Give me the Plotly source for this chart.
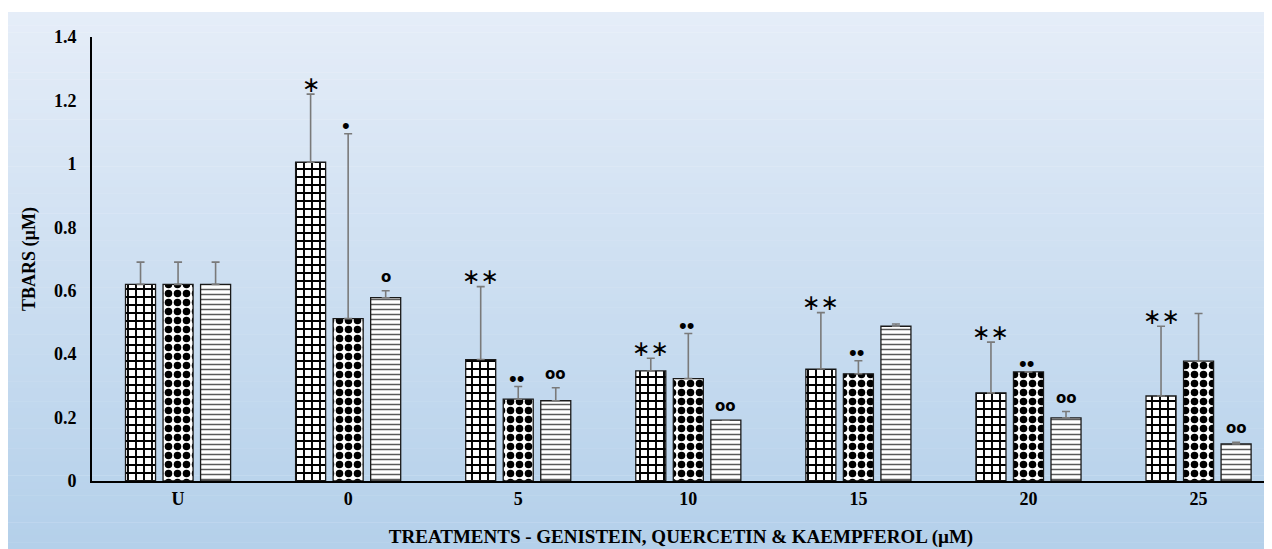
import plotly.graph_objects as go

categories = ["U", "0", "5", "10", "15", "20", "25"]
series_names = ["Genistein", "Quercetin", "Kaempferol"]

genistein = [0.62, 1.005, 0.383, 0.347, 0.353, 0.278, 0.268]
genistein_err = [0.07, 0.215, 0.23, 0.04, 0.178, 0.16, 0.22]
quercetin = [0.62, 0.512, 0.258, 0.323, 0.338, 0.344, 0.378]
quercetin_err = [0.07, 0.583, 0.04, 0.142, 0.041, 0.0, 0.15]
kaempferol = [0.62, 0.578, 0.253, 0.192, 0.488, 0.199, 0.117]
kaempferol_err = [0.07, 0.022, 0.041, 0.0, 0.007, 0.02, 0.005]

genistein_sig = ["", "∗", "∗∗", "∗∗", "∗∗", "∗∗", "∗∗"]
quercetin_sig = ["", "•", "••", "••", "••", "••", ""]
kaempferol_sig = ["", "o", "oo", "oo", "", "oo", "oo"]

values = [genistein, quercetin, kaempferol]
errors = [genistein_err, quercetin_err, kaempferol_err]
sigs = [genistein_sig, quercetin_sig, kaempferol_sig]

patterns = [
    dict(shape="+", size=8, solidity=0.42, fgcolor="black", bgcolor="white", fillmode="replace"),
    dict(shape=".", size=9, solidity=0.55, fgcolor="black", bgcolor="white", fillmode="replace"),
    dict(shape="-", size=5, solidity=0.3, fgcolor="#5a5a5a", bgcolor="white", fillmode="replace"),
]

FONT = "Liberation Serif"
xs = list(range(len(categories)))

fig = go.Figure()

# gradient background (paper coordinates)
top_c = (229, 237, 248)
bot_c = (180, 208, 234)
n = 80
y_top, y_bot = 1.0563, -0.1532
for i in range(n):
    t = i / (n - 1)
    c = tuple(round(top_c[k] + (bot_c[k] - top_c[k]) * t) for k in range(3))
    y0 = y_top - (y_top - y_bot) * i / n
    y1 = y_top - (y_top - y_bot) * (i + 1) / n
    fig.add_shape(type="rect", xref="paper", yref="paper", x0=-0.0713, x1=1.0085,
                  y0=y1 - 0.001, y1=y0, fillcolor="rgb(%d,%d,%d)" % c,
                  line=dict(width=0), layer="below")

for k in range(3):
    fig.add_trace(go.Bar(
        x=xs, y=values[k], name=series_names[k],
        marker=dict(color="white", pattern=patterns[k],
                    line=dict(color="#1a1a1a", width=1.3)),
        error_y=dict(type="data", symmetric=False, array=errors[k],
                     arrayminus=[0] * len(xs), color="#7a7a7a", thickness=1.6, width=4),
    ))

slot = (1 - 0.338) / 3
shift_map = {"∗": 10, "•": 8, "o": 14}
size_map = {"∗": 22, "•": 22, "o": 15}
weight_map = {"∗": "normal", "•": "normal", "o": "bold"}
family_map = {"∗": "DejaVu Sans", "•": "Liberation Sans", "o": "DejaVu Sans"}
for k in range(3):
    for i in xs:
        s = sigs[k][i]
        if not s:
            continue
        ch = s[0]
        fig.add_annotation(
            x=i + (k - 1) * slot, y=values[k][i] + errors[k][i], xref="x", yref="y",
            text=s, showarrow=False, yshift=shift_map[ch], xshift=-2 if ch == "•" else 0,
            font=dict(family=family_map[ch], size=size_map[ch], color="black",
                      weight=weight_map[ch]),
            yanchor="middle",
        )

fig.update_layout(
    width=1272, height=549,
    margin=dict(l=84, r=10, t=29, b=76),
    paper_bgcolor="white", plot_bgcolor="rgba(0,0,0,0)",
    barmode="group", bargap=0.338, bargroupgap=0.2,
    showlegend=False,
    font=dict(family=FONT, size=18, color="black"),
)
fig.update_xaxes(
    range=[-0.506, 6.42], tickmode="array", tickvals=xs, ticktext=categories,
    showline=True, linecolor="black", linewidth=2, showgrid=False, zeroline=False,
    ticks="", tickfont=dict(family=FONT, size=18, weight="bold"),
    title=dict(text="<b>TREATMENTS - GENISTEIN, QUERCETIN & KAEMPFEROL (µM)</b>",
               font=dict(family=FONT, size=19), standoff=22),
)
fig.update_yaxes(
    range=[0, 1.4], tickvals=[0, 0.2, 0.4, 0.6, 0.8, 1, 1.2, 1.4],
    ticktext=["0", "0.2", "0.4", "0.6", "0.8", "1", "1.2", "1.4"],
    showline=True, linecolor="black", linewidth=1.6, showgrid=False, zeroline=False,
    ticks="outside", ticklen=10, tickcolor="rgba(0,0,0,0)",
    tickfont=dict(family=FONT, size=18, weight="bold"),
    title=dict(text="<b>TBARS (µM)</b>", font=dict(family=FONT, size=18), standoff=14),
)

fig.write_html("out.html")
